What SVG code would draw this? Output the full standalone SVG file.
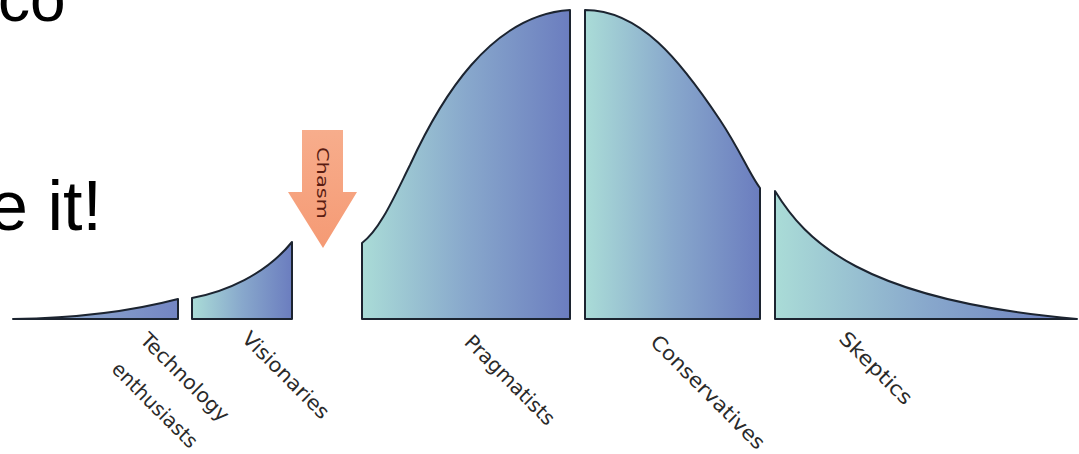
<svg xmlns="http://www.w3.org/2000/svg" width="1079" height="454" viewBox="0 0 1079 454">
  <style>
    .seg { stroke: #1c2430; stroke-width: 2; stroke-linejoin: round; }
    .lbl { font-family: "DejaVu Sans", "Liberation Sans", sans-serif; font-size: 20px; fill: #2a2a2a; text-anchor: middle; }
    .big { font-family: "Liberation Sans", Arial, sans-serif; fill: #000; }
  </style>
  <defs>
    <linearGradient id="g" x1="0" y1="0" x2="1" y2="0">
      <stop offset="0" stop-color="#aadcd7"/>
      <stop offset="0.5" stop-color="#88a8cc"/>
      <stop offset="1" stop-color="#6b7dbf"/>
    </linearGradient>
    <linearGradient id="gt" x1="0" y1="0" x2="1" y2="0">
      <stop offset="0" stop-color="#9ab8d4"/>
      <stop offset="1" stop-color="#7385c3"/>
    </linearGradient>
    <linearGradient id="ga" x1="0" y1="0" x2="0" y2="1">
      <stop offset="0" stop-color="#f7ad8c"/>
      <stop offset="1" stop-color="#f59a74"/>
    </linearGradient>
  </defs>
  <rect width="1079" height="454" fill="#ffffff"/>

  <g id="title">
    <text class="big" x="-2" y="21" font-size="64">co</text>
    <text class="big" x="-11" y="230" font-size="70">e it!</text>
  </g>

  <g id="node-tech">
    <path class="seg" fill="url(#gt)" d="M13,319 C90,318 140,309 178,299 L178,319 Z"/>
    <g transform="translate(185,377) rotate(45)">
      <text class="lbl" x="0" y="7" textLength="116" lengthAdjust="spacingAndGlyphs">Technology</text>
    </g>
    <g transform="translate(155,405) rotate(45)">
      <text class="lbl" x="0" y="7" textLength="112" lengthAdjust="spacingAndGlyphs">enthusiasts</text>
    </g>
  </g>

  <g id="node-visionaries">
    <path class="seg" fill="url(#g)" d="M192,298 C225,292 265,275 292,242 L292,319 L192,319 Z"/>
    <g transform="translate(286,375) rotate(45)">
      <text class="lbl" x="0" y="7" textLength="114" lengthAdjust="spacingAndGlyphs">Visionaries</text>
    </g>
  </g>

  <g id="node-chasm">
    <polygon fill="url(#ga)" points="302,130 343,130 343,192 357,192 323,248 288,192 302,192"/>
    <g transform="translate(322,183) rotate(90)">
      <text x="0" y="5" font-family="DejaVu Sans, Liberation Sans, sans-serif" font-size="16" fill="#5a1c12" text-anchor="middle" textLength="72" lengthAdjust="spacingAndGlyphs">Chasm</text>
    </g>
  </g>

  <g id="node-pragmatists">
    <path class="seg" fill="url(#g)" d="M362,243 C380,230 395,195 410,165 C440,100 490,15 570,10 L570,319 L362,319 Z"/>
    <g transform="translate(510,380) rotate(45)">
      <text class="lbl" x="0" y="7" textLength="118" lengthAdjust="spacingAndGlyphs">Pragmatists</text>
    </g>
  </g>

  <g id="node-conservatives">
    <path class="seg" fill="url(#g)" d="M585,10 C640,10 680,60 720,120 C740,150 750,175 760,188 L760,319 L585,319 Z"/>
    <g transform="translate(708,392) rotate(45)">
      <text class="lbl" x="0" y="7" textLength="152" lengthAdjust="spacingAndGlyphs">Conservatives</text>
    </g>
  </g>

  <g id="node-skeptics">
    <path class="seg" fill="url(#g)" d="M775,191 C805,240 860,300 1077,319 L775,319 Z"/>
    <g transform="translate(876,368) rotate(45)">
      <text class="lbl" x="0" y="7" textLength="94" lengthAdjust="spacingAndGlyphs">Skeptics</text>
    </g>
  </g>

  <g id="connectors"></g>
</svg>
